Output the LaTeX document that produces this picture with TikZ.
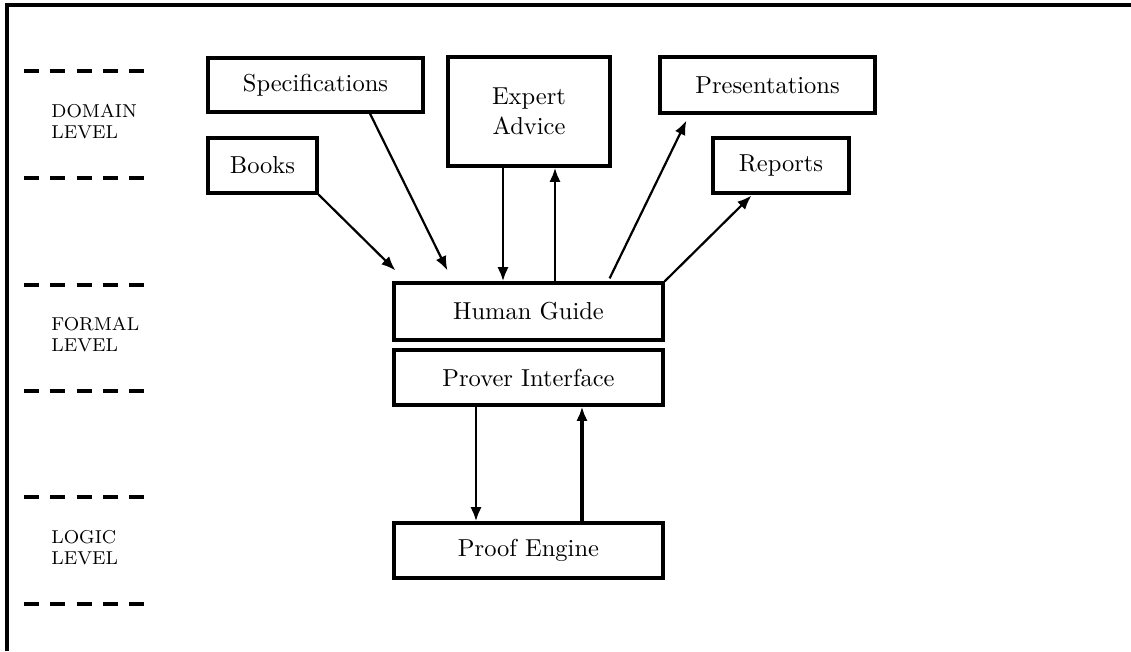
\documentclass[tikz,border=0pt]{standalone}
\usetikzlibrary{arrows.meta,calc}
\begin{document}
\begin{tikzpicture}[x=0.408pt,y=-0.408pt,
  box/.style={draw,line width=1.3pt,inner sep=0pt,align=center,font=\fontsize{10}{12}\selectfont},
  sz/.style 2 args={minimum width=#1*0.408pt,minimum height=#2*0.408pt},
  lvl/.style={anchor=west,align=left,inner sep=0pt,font=\fontsize{7.6}{8.6}\selectfont},
  lvlline/.style={line width=1.3pt,dash pattern=on 6.12pt off 4.59pt},
  frame/.style={line width=1.3pt},
  arr/.style={-{Latex[length=5.8pt,width=4.6pt]},line width=0.9pt},
  varr/.style={arr,line width=1.2pt},
  tarr/.style={arr,line width=1.7pt}]
\useasboundingbox (0,0) rectangle (1131,651);
% frame
\draw[frame] (7,651) -- (7,5) -- (1131,5);
% level separators
\foreach \yy in {71,178,285,391,497,604}
  \draw[lvlline] (24,\yy) -- (144,\yy);
\node[lvl] (ldom) at (51,122) {DOMAIN\\LEVEL};
\node[lvl] (lfor) at (51,335) {FORMAL\\LEVEL};
\node[lvl] (llog) at (51,548) {LOGIC\\LEVEL};
% boxes
\node[box,sz={215}{54}] (spec) at (315.5,85) {Specifications};
\node[box,sz={109}{55}] (books) at (262.5,165.5) {Books};
\node[box,sz={162}{109}] (ea) at (529,111.5) {Expert\\Advice};
\node[box,sz={215}{56}] (pres) at (767.5,85) {Presentations};
\node[box,sz={136}{55}] (rep) at (781,165.5) {Reports};
\node[box,sz={269}{57}] (hg) at (528.5,311.5) {Human Guide};
\node[box,sz={269}{55}] (pi) at (528.5,377.5) {Prover Interface};
\node[box,sz={269}{55}] (pe) at (528.5,550.5) {Proof Engine};
% connectors
\draw[arr] (books.south east) -- ($(hg.north west)+(3,-11)$);
\draw[arr] ($(spec.south)+(54.5,0)$) -- ($(hg.north west)+(55,-11)$);
\coordinate (d1) at ($(ea.south)+(-26,0)$);
\coordinate (u1) at ($(ea.south)+(26,0)$);
\draw[varr] (d1) -- (d1 |- hg.north);
\draw[varr] (u1 |- hg.north) -- (u1);
\draw[arr] ($(hg.north east)+(-55,-3)$) -- ($(pres.south west)+(28,6)$);
\draw[arr] (hg.north east) -- ($(rep.south west)+(40,1)$);
\coordinate (d2) at ($(pi.south)+(-52.5,0)$);
\coordinate (u2) at ($(pi.south)+(53.5,0)$);
\draw[varr] (d2) -- (d2 |- pe.north);
\draw[tarr] (u2 |- pe.north) -- (u2);
\end{tikzpicture}
\end{document}
